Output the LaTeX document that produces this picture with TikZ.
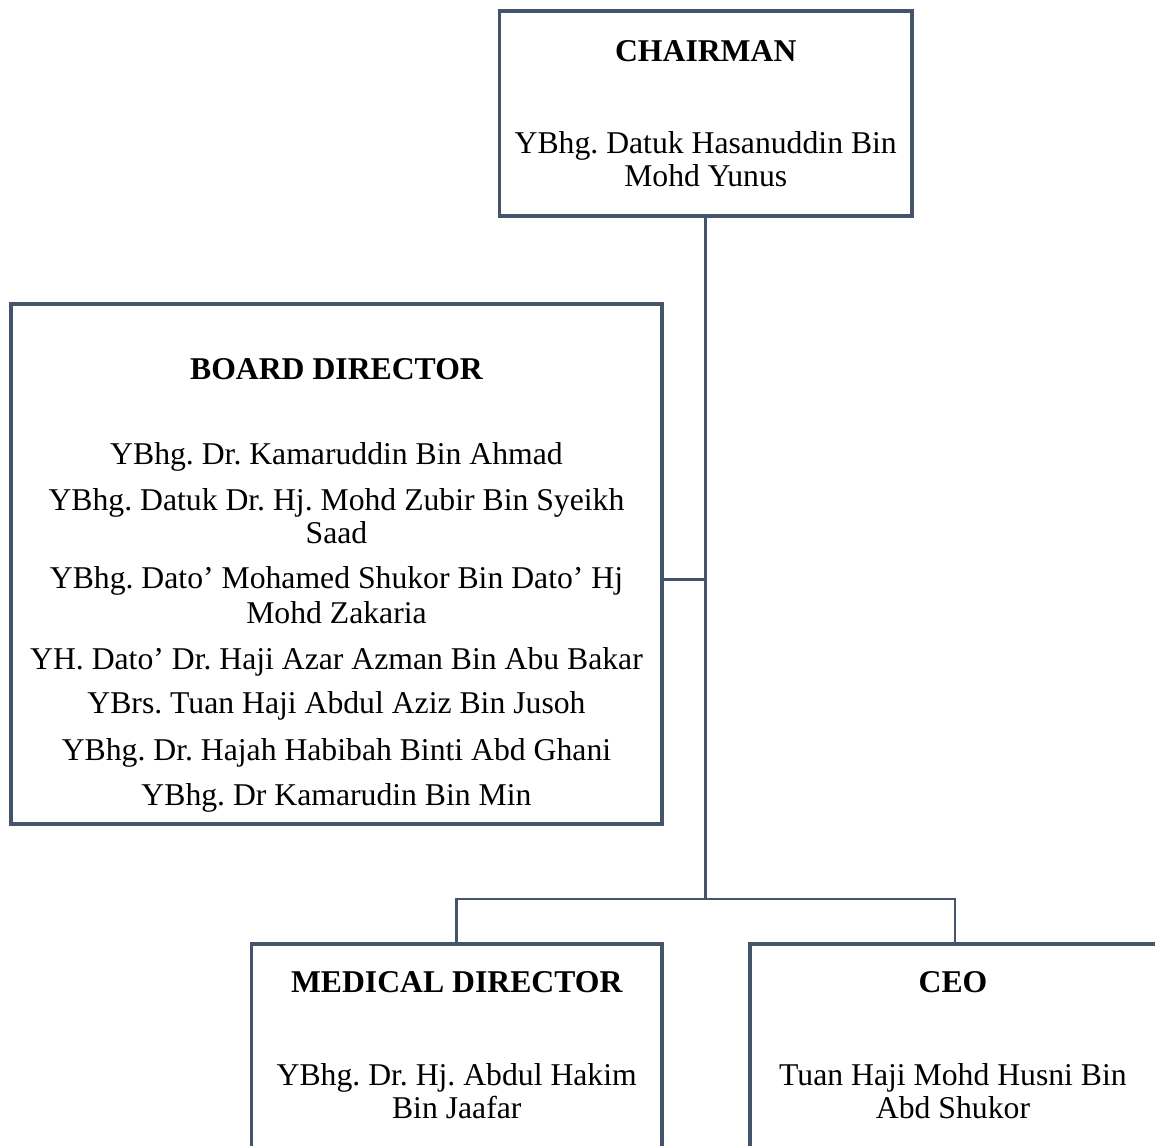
\documentclass[tikz,border=0pt]{standalone}
\usepackage{fontspec}
\setmainfont{Liberation Serif}
\definecolor{frame}{HTML}{44546A}
\begin{document}
\frenchspacing
\begin{tikzpicture}[x=1pt,y=-1pt,
  box/.style={draw=frame,line width=3.6pt,rectangle,inner sep=0pt,outer sep=0pt},
  link/.style={draw=frame,line width=2.6pt},
  txt/.style={anchor=base,inner sep=0pt,font=\fontsize{31.7}{34}\selectfont},
  head/.style={txt,font=\fontsize{31.7}{34}\selectfont\bfseries}]
\useasboundingbox (0,0) rectangle (1155,1145);

% boxes (centre, size measured on the border centre line)
\node[box,minimum width=412.5pt,minimum height=205pt] (chair) at (705.75,113.5) {};
\node[box,minimum width=651.5pt,minimum height=520pt] (board) at (336.5,564) {};
\node[box,minimum width=410.5pt,minimum height=256pt] (med) at (456.75,1072) {};
\node[box,minimum width=410pt,minimum height=256pt] (ceo) at (955,1072) {};

% connectors
\coordinate (tap) at (705.75,579.5);
\coordinate (split) at (705.75,899);
\draw[link] (chair.south) -- (split);
\draw[link] (tap) -- (tap -| board.east);
\draw[link] (split) -| (med.north);
\draw[link] (split) -| (ceo.north);

% chairman
\node[head] (chairT) at (705.75,62) {CHAIRMAN};
\node[txt] (chairA) at (705.75,153) {YBhg. Datuk Hasanuddin Bin};
\node[txt] (chairB) at (705.75,186) {Mohd Yunus};

% board of directors
\node[head] (boardT) at (336.5,379) {BOARD DIRECTOR};
\node[txt] (b1) at (336.5,464) {YBhg. Dr. Kamaruddin Bin Ahmad};
\node[txt] (b2a) at (336.5,510) {YBhg. Datuk Dr. Hj. Mohd Zubir Bin Syeikh};
\node[txt] (b2b) at (336.5,543) {Saad};
\node[txt] (b3a) at (336.5,588) {YBhg. Dato’ Mohamed Shukor Bin Dato’ Hj};
\node[txt] (b3b) at (336.5,623) {Mohd Zakaria};
\node[txt] (b4) at (336.5,669) {YH. Dato’ Dr. Haji Azar Azman Bin Abu Bakar};
\node[txt] (b5) at (336.5,713) {YBrs. Tuan Haji Abdul Aziz Bin Jusoh};
\node[txt] (b6) at (336.5,760) {YBhg. Dr. Hajah Habibah Binti Abd Ghani};
\node[txt] (b7) at (336.5,805) {YBhg. Dr Kamarudin Bin Min};

% medical director
\node[head] (medT) at (456.75,992) {MEDICAL DIRECTOR};
\node[txt] (medA) at (456.75,1085) {YBhg. Dr. Hj. Abdul Hakim};
\node[txt] (medB) at (456.75,1118) {Bin Jaafar};

% chief executive
\node[head] (ceoT) at (953,992) {CEO};
\node[txt] (ceoA) at (953,1085) {Tuan Haji Mohd Husni Bin};
\node[txt] (ceoB) at (953,1118) {Abd Shukor};
\end{tikzpicture}
\end{document}
